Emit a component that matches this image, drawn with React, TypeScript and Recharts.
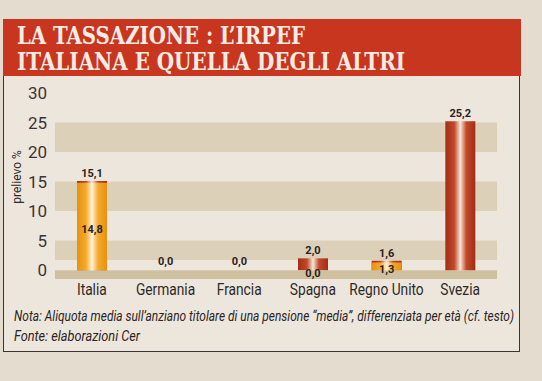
import { Bar, BarChart, Cell, LabelList, ReferenceArea, XAxis, YAxis } from "recharts";

const countries = ["Italia", "Germania", "Francia", "Spagna", "Regno Unito", "Svezia"];
const upperValues = [15.1, 0, 0, 2.0, 1.6, 25.2];
const lowerValues: (number | null)[] = [14.8, null, null, 0, 1.3, null];
const yTicks = [0, 5, 10, 15, 20, 25, 30];
const shadedBands: [number, number][] = [
  [20, 25],
  [10, 15],
  [1.7, 5],
];
const baseBand: [number, number] = [-1.5, 0];

const titleLines = ["LA TASSAZIONE : L\u2019IRPEF", "ITALIANA E QUELLA DEGLI ALTRI"];
const noteLines = [
  "Nota: Aliquota media sull\u2019anziano titolare di una pensione \u201cmedia\u201d, differenziata per et\u00e0 (cf. testo)",
  "Fonte: elaborazioni Cer",
];

const data = countries.map((name, i) => ({
  name,
  upper: upperValues[i],
  lower: lowerValues[i],
}));

const SANS = "Roboto, 'Liberation Sans', sans-serif";
const TITLE_FONT = "'DejaVu Serif Condensed', 'DejaVu Serif', serif";
const fmt = (v: unknown) => (v == null ? "" : Number(v).toFixed(1).replace(".", ","));

function CountryTick(props: any) {
  const { x, y, payload } = props;
  return (
    <g transform={`translate(${x},${y}) scale(0.86,1)`}>
      <text x={0} y={0} dy="0.71em" textAnchor="middle" fontFamily={SANS} fontSize={16} fill="#2e2a2a">
        {payload.value}
      </text>
    </g>
  );
}

function LowerLabel(props: any) {
  const { x, y, width, height, value } = props;
  if (value == null) return null;
  return (
    <text
      x={x + width / 2}
      y={y + height / 2 + 4}
      textAnchor="middle"
      dominantBaseline="middle"
      fontFamily={SANS}
      fontWeight="bold"
      fontSize={11}
      fill="#2a2220"
    >
      {fmt(value)}
    </text>
  );
}

export default function App() {
  return (
    <div
      style={{
        position: "absolute",
        left: 0,
        top: 0,
        width: 542,
        height: 381,
        background: "#e4dccf",
        overflow: "hidden",
      }}
    >
      {/* framed panel under the title */}
      <div
        style={{
          position: "absolute",
          left: 3,
          top: 75,
          width: 515,
          height: 276,
          background: "#ede6dc",
          borderLeft: "1.5px solid #3a3434",
          borderRight: "1.5px solid #3a3434",
          borderBottom: "1.5px solid #3a3434",
        }}
      />
      <svg style={{ position: "absolute", left: 0, top: 0 }} width={542} height={381}>
        <defs>
          <linearGradient id="redBar" x1="0" y1="0" x2="1" y2="0">
            <stop offset="0" stopColor="#a32c18" />
            <stop offset="0.3" stopColor="#c04a28" />
            <stop offset="0.5" stopColor="#f6e6da" />
            <stop offset="0.7" stopColor="#c04a28" />
            <stop offset="1" stopColor="#a32c18" />
          </linearGradient>
          <linearGradient id="orangeBar" x1="0" y1="0" x2="1" y2="0">
            <stop offset="0" stopColor="#e8900e" />
            <stop offset="0.3" stopColor="#f3aa2c" />
            <stop offset="0.5" stopColor="#fff2d8" />
            <stop offset="0.7" stopColor="#f3aa2c" />
            <stop offset="1" stopColor="#e8900e" />
          </linearGradient>
        </defs>
        <rect x={3} y={19} width={518} height={57} fill="#c9361f" />
        <text
          x={17}
          y={44}
          textLength={288}
          lengthAdjust="spacingAndGlyphs"
          fontFamily={TITLE_FONT}
          fontWeight="bold"
          fontSize={24}
          fill="#f7ece4"
        >
          {titleLines[0]}
        </text>
        <text
          x={17}
          y={70}
          textLength={388}
          lengthAdjust="spacingAndGlyphs"
          fontFamily={TITLE_FONT}
          fontWeight="bold"
          fontSize={24}
          fill="#f7ece4"
        >
          {titleLines[1]}
        </text>
        <text
          x={21}
          y={177}
          transform="rotate(-90 21 177)"
          textAnchor="middle"
          fontFamily={SANS}
          fontSize={12}
          fill="#2e2a2a"
        >
          prelievo %
        </text>
        <text
          x={14}
          y={321}
          textLength={500}
          lengthAdjust="spacingAndGlyphs"
          fontFamily={SANS}
          fontStyle="italic"
          fontSize={14}
          fill="#2a2424"
        >
          {noteLines[0]}
        </text>
        <text
          x={14}
          y={341}
          textLength={126}
          lengthAdjust="spacingAndGlyphs"
          fontFamily={SANS}
          fontStyle="italic"
          fontSize={14}
          fill="#2a2424"
        >
          {noteLines[1]}
        </text>
      </svg>
      <div style={{ position: "absolute", left: 0, top: 0 }}>
        <BarChart
          width={542}
          height={381}
          data={data}
          margin={{ top: 93, right: 45, bottom: 72, left: 5 }}
          barSize={30}
          barGap={-30}
        >
          {shadedBands.map(([a, b]) => (
            <ReferenceArea key={a} y1={a} y2={b} fill="#ddd0b8" fillOpacity={1} stroke="none" />
          ))}
          <ReferenceArea y1={baseBand[0]} y2={baseBand[1]} fill="#cfc09f" fillOpacity={1} stroke="none" />
          <XAxis
            dataKey="name"
            height={30}
            axisLine={false}
            tickLine={false}
            tickSize={0}
            tickMargin={5}
            interval={0}
            tick={<CountryTick />}
          />
          <YAxis
            width={50}
            domain={[baseBand[0], 30]}
            ticks={yTicks}
            allowDataOverflow
            axisLine={false}
            tickLine={false}
            tickSize={0}
            tickMargin={8}
            tick={{ fontFamily: SANS, fontSize: 17, fill: "#3a3434" }}
          />
          {/* zero values keep their label but draw no visible bar */}
          <Bar dataKey="upper" minPointSize={1} isAnimationActive={false}>
            {upperValues.map((v, i) => (
              <Cell key={i} fill={v === 0 ? "transparent" : "url(#redBar)"} />
            ))}
            <LabelList
              dataKey="upper"
              position="top"
              offset={4}
              formatter={fmt}
              style={{ fontFamily: SANS, fontWeight: "bold", fontSize: 11, fill: "#2a2220" }}
            />
          </Bar>
          <Bar dataKey="lower" minPointSize={1} isAnimationActive={false}>
            {lowerValues.map((v, i) => (
              <Cell key={i} fill={v === 0 ? "transparent" : "url(#orangeBar)"} />
            ))}
            <LabelList dataKey="lower" content={LowerLabel} />
          </Bar>
        </BarChart>
      </div>
    </div>
  );
}
